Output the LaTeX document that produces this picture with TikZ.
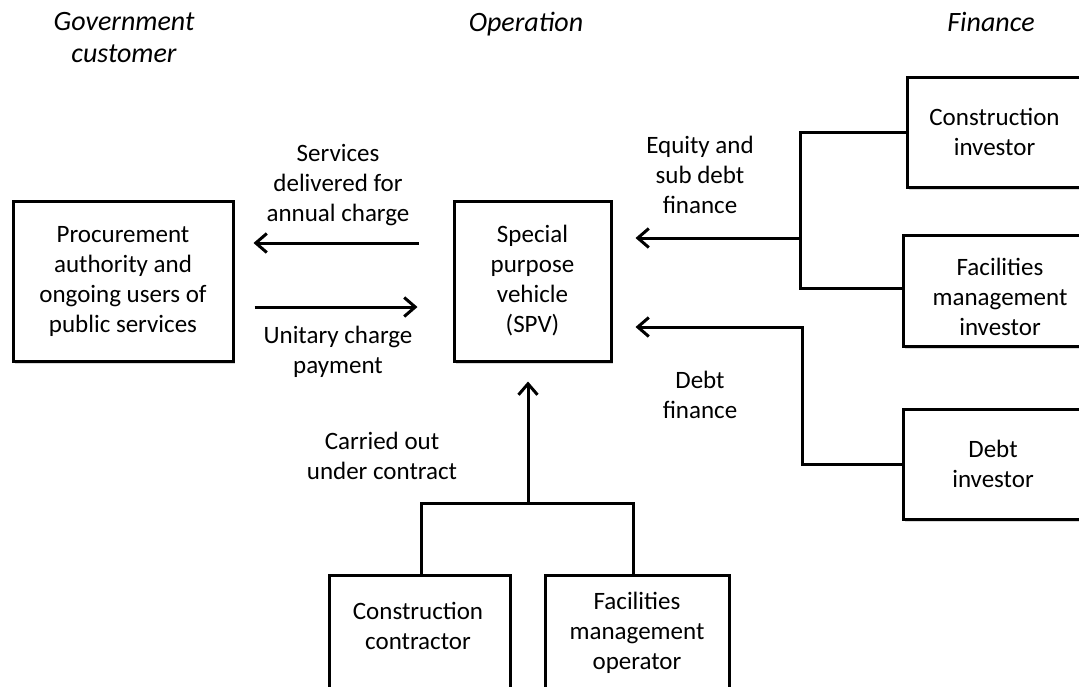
\documentclass[tikz,border=0pt]{standalone}
\usepackage{fontspec}
\setmainfont{Carlito}
\usetikzlibrary{arrows.meta,shadows}
\begin{document}
\begin{tikzpicture}[x=1pt,y=-1pt,
  box/.style={draw, line width=3pt, fill=white, align=center, inner sep=0pt,
    font=\fontsize{25}{30}\selectfont,
    drop shadow={shadow xshift=2pt, shadow yshift=-2.5pt, opacity=0.3}},
  lbl/.style={align=center, inner sep=0pt, font=\fontsize{25}{30}\selectfont},
  hdr/.style={align=center, inner sep=0pt, anchor=base, font=\fontsize{28}{32}\selectfont\itshape},
  conn/.style={line width=3pt},
  arr/.style={conn, -{Straight Barb[length=11pt, width=19pt, line width=3pt]}}]
\useasboundingbox (0,0) rectangle (1079,686);
\clip (0,0) rectangle (1079,686);

% headers
\node[hdr] (h1) at (124,62) {Government\\customer};
\node[hdr] (h2) at (526,31) {Operation};
\node[hdr] (h3) at (991,31) {Finance};

% boxes
\node[box, minimum width=220, minimum height=160] (pa) at (123,281)
  {Procurement\\authority and\\ongoing users of\\public services};
\node[box, minimum width=157, minimum height=160] (spv) at (532.5,281)
  {Special\\purpose\\vehicle\\(SPV)};
\node[box, minimum width=175, minimum height=110] (ci) at (994.5,132)
  {Construction\\investor};
\node[box, minimum width=194, minimum height=111] (fi) at (1000,290.5) {};
\node[lbl] (fit) at (1000,297) {Facilities\\management\\investor};
\node[box, minimum width=180, minimum height=110] (di) at (993,464)
  {Debt\\investor};
\node[box, minimum width=181, minimum height=130, anchor=north] (cc) at (419.5,574) {};
\node[lbl] (cct) at (418,626) {Construction\\contractor};
\node[box, minimum width=184, minimum height=130, anchor=north] (fo) at (637,574) {};
\node[lbl] (fot) at (637,633) {Facilities\\management\\operator};

% labels
\node[lbl] (l1) at (338,185) {Services\\delivered for\\annual charge};
\node[lbl] (l2) at (338,352) {Unitary charge\\payment};
\node[lbl] (l3) at (700,175) {Equity and\\sub debt\\finance};
\node[lbl] (l4) at (700,395) {Debt\\finance};
\node[lbl] (l5) at (382,456) {Carried out\\under contract};

% connectors
\draw[arr, shorten <=34pt, shorten >=19pt] (spv.west |- 0,243) -- (pa.east |- 0,243);
\draw[arr, shorten <=20pt, shorten >=35pt] (pa.east |- 0,307) -- (spv.west |- 0,307);

\coordinate (eqj) at (800,238);
\draw[conn] (ci.west) -| (eqj) |- (fi.west |- 0,288);
\draw[arr, shorten >=23pt] (eqj) -- (spv.east |- eqj);

\coordinate (dj) at (802,327);
\draw[arr, shorten >=23pt] (di.west) -| (dj) -- (spv.east |- dj);

\coordinate (bj) at (528,503);
\draw[conn] (cc.north -| 421,0) |- (bj) -| (fo.north -| 633,0);
\draw[arr, shorten >=19pt] (bj) -- (spv.south -| bj);
\end{tikzpicture}
\end{document}
